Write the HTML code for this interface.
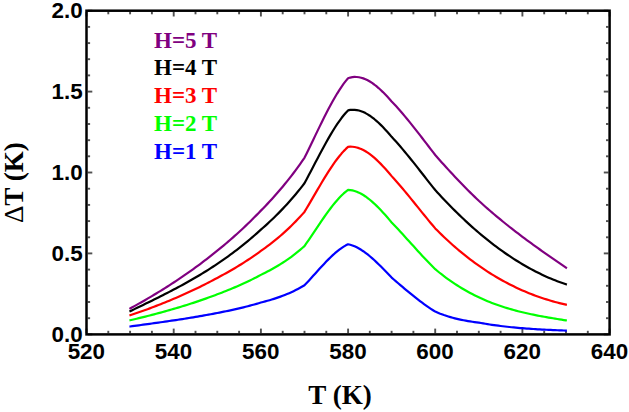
<!DOCTYPE html>
<html><head><meta charset="utf-8"><style>
html,body{margin:0;padding:0;background:#fff;}
svg{display:block;}
.tk text{font-family:"Liberation Sans",sans-serif;font-weight:bold;font-size:22.4px;fill:#000;}
.lg text{font-family:"Liberation Serif",serif;font-weight:bold;font-size:23px;}
.ax{font-family:"Liberation Serif",serif;font-weight:bold;font-size:27.1px;fill:#000;}
</style></head><body>
<svg width="629" height="412" viewBox="0 0 629 412">
<rect width="629" height="412" fill="#fff"/>
<g stroke="#505050" stroke-width="1.9">
<line x1="86.5" y1="333.2" x2="86.5" y2="328.6"/>
<line x1="86.5" y1="11.9" x2="86.5" y2="16.5"/>
<line x1="108.3" y1="333.2" x2="108.3" y2="330.8"/>
<line x1="108.3" y1="11.9" x2="108.3" y2="14.3"/>
<line x1="130.1" y1="333.2" x2="130.1" y2="330.8"/>
<line x1="130.1" y1="11.9" x2="130.1" y2="14.3"/>
<line x1="151.9" y1="333.2" x2="151.9" y2="330.8"/>
<line x1="151.9" y1="11.9" x2="151.9" y2="14.3"/>
<line x1="173.7" y1="333.2" x2="173.7" y2="328.6"/>
<line x1="173.7" y1="11.9" x2="173.7" y2="16.5"/>
<line x1="195.5" y1="333.2" x2="195.5" y2="330.8"/>
<line x1="195.5" y1="11.9" x2="195.5" y2="14.3"/>
<line x1="217.3" y1="333.2" x2="217.3" y2="330.8"/>
<line x1="217.3" y1="11.9" x2="217.3" y2="14.3"/>
<line x1="239.1" y1="333.2" x2="239.1" y2="330.8"/>
<line x1="239.1" y1="11.9" x2="239.1" y2="14.3"/>
<line x1="260.9" y1="333.2" x2="260.9" y2="328.6"/>
<line x1="260.9" y1="11.9" x2="260.9" y2="16.5"/>
<line x1="282.7" y1="333.2" x2="282.7" y2="330.8"/>
<line x1="282.7" y1="11.9" x2="282.7" y2="14.3"/>
<line x1="304.5" y1="333.2" x2="304.5" y2="330.8"/>
<line x1="304.5" y1="11.9" x2="304.5" y2="14.3"/>
<line x1="326.3" y1="333.2" x2="326.3" y2="330.8"/>
<line x1="326.3" y1="11.9" x2="326.3" y2="14.3"/>
<line x1="348.1" y1="333.2" x2="348.1" y2="328.6"/>
<line x1="348.1" y1="11.9" x2="348.1" y2="16.5"/>
<line x1="369.8" y1="333.2" x2="369.8" y2="330.8"/>
<line x1="369.8" y1="11.9" x2="369.8" y2="14.3"/>
<line x1="391.6" y1="333.2" x2="391.6" y2="330.8"/>
<line x1="391.6" y1="11.9" x2="391.6" y2="14.3"/>
<line x1="413.4" y1="333.2" x2="413.4" y2="330.8"/>
<line x1="413.4" y1="11.9" x2="413.4" y2="14.3"/>
<line x1="435.2" y1="333.2" x2="435.2" y2="328.6"/>
<line x1="435.2" y1="11.9" x2="435.2" y2="16.5"/>
<line x1="457.0" y1="333.2" x2="457.0" y2="330.8"/>
<line x1="457.0" y1="11.9" x2="457.0" y2="14.3"/>
<line x1="478.8" y1="333.2" x2="478.8" y2="330.8"/>
<line x1="478.8" y1="11.9" x2="478.8" y2="14.3"/>
<line x1="500.6" y1="333.2" x2="500.6" y2="330.8"/>
<line x1="500.6" y1="11.9" x2="500.6" y2="14.3"/>
<line x1="522.4" y1="333.2" x2="522.4" y2="328.6"/>
<line x1="522.4" y1="11.9" x2="522.4" y2="16.5"/>
<line x1="544.2" y1="333.2" x2="544.2" y2="330.8"/>
<line x1="544.2" y1="11.9" x2="544.2" y2="14.3"/>
<line x1="566.0" y1="333.2" x2="566.0" y2="330.8"/>
<line x1="566.0" y1="11.9" x2="566.0" y2="14.3"/>
<line x1="587.8" y1="333.2" x2="587.8" y2="330.8"/>
<line x1="587.8" y1="11.9" x2="587.8" y2="14.3"/>
<line x1="609.6" y1="333.2" x2="609.6" y2="328.6"/>
<line x1="609.6" y1="11.9" x2="609.6" y2="16.5"/>
<line x1="87.7" y1="334.4" x2="92.3" y2="334.4"/>
<line x1="608.4" y1="334.4" x2="603.8" y2="334.4"/>
<line x1="87.7" y1="318.2" x2="90.1" y2="318.2"/>
<line x1="608.4" y1="318.2" x2="606.0" y2="318.2"/>
<line x1="87.7" y1="302.0" x2="90.1" y2="302.0"/>
<line x1="608.4" y1="302.0" x2="606.0" y2="302.0"/>
<line x1="87.7" y1="285.8" x2="90.1" y2="285.8"/>
<line x1="608.4" y1="285.8" x2="606.0" y2="285.8"/>
<line x1="87.7" y1="269.6" x2="90.1" y2="269.6"/>
<line x1="608.4" y1="269.6" x2="606.0" y2="269.6"/>
<line x1="87.7" y1="253.4" x2="92.3" y2="253.4"/>
<line x1="608.4" y1="253.4" x2="603.8" y2="253.4"/>
<line x1="87.7" y1="237.3" x2="90.1" y2="237.3"/>
<line x1="608.4" y1="237.3" x2="606.0" y2="237.3"/>
<line x1="87.7" y1="221.1" x2="90.1" y2="221.1"/>
<line x1="608.4" y1="221.1" x2="606.0" y2="221.1"/>
<line x1="87.7" y1="204.9" x2="90.1" y2="204.9"/>
<line x1="608.4" y1="204.9" x2="606.0" y2="204.9"/>
<line x1="87.7" y1="188.7" x2="90.1" y2="188.7"/>
<line x1="608.4" y1="188.7" x2="606.0" y2="188.7"/>
<line x1="87.7" y1="172.5" x2="92.3" y2="172.5"/>
<line x1="608.4" y1="172.5" x2="603.8" y2="172.5"/>
<line x1="87.7" y1="156.3" x2="90.1" y2="156.3"/>
<line x1="608.4" y1="156.3" x2="606.0" y2="156.3"/>
<line x1="87.7" y1="140.2" x2="90.1" y2="140.2"/>
<line x1="608.4" y1="140.2" x2="606.0" y2="140.2"/>
<line x1="87.7" y1="124.0" x2="90.1" y2="124.0"/>
<line x1="608.4" y1="124.0" x2="606.0" y2="124.0"/>
<line x1="87.7" y1="107.8" x2="90.1" y2="107.8"/>
<line x1="608.4" y1="107.8" x2="606.0" y2="107.8"/>
<line x1="87.7" y1="91.6" x2="92.3" y2="91.6"/>
<line x1="608.4" y1="91.6" x2="603.8" y2="91.6"/>
<line x1="87.7" y1="75.4" x2="90.1" y2="75.4"/>
<line x1="608.4" y1="75.4" x2="606.0" y2="75.4"/>
<line x1="87.7" y1="59.2" x2="90.1" y2="59.2"/>
<line x1="608.4" y1="59.2" x2="606.0" y2="59.2"/>
<line x1="87.7" y1="43.1" x2="90.1" y2="43.1"/>
<line x1="608.4" y1="43.1" x2="606.0" y2="43.1"/>
<line x1="87.7" y1="26.9" x2="90.1" y2="26.9"/>
<line x1="608.4" y1="26.9" x2="606.0" y2="26.9"/>
<line x1="87.7" y1="10.7" x2="92.3" y2="10.7"/>
<line x1="608.4" y1="10.7" x2="603.8" y2="10.7"/>
</g>
<g>
<polyline points="129.44,308.86 130.09,308.51 132.27,307.31 134.45,306.10 136.63,304.89 138.81,303.66 140.99,302.43 143.17,301.18 145.35,299.93 147.53,298.66 149.71,297.38 151.89,296.09 154.07,294.79 156.25,293.48 158.43,292.16 160.61,290.82 162.79,289.47 164.97,288.11 167.14,286.73 169.32,285.34 171.50,283.94 173.68,282.52 175.86,281.08 178.04,279.64 180.22,278.17 182.40,276.69 184.58,275.20 186.76,273.69 188.94,272.16 191.12,270.62 193.30,269.06 195.48,267.48 197.66,265.89 199.84,264.27 202.02,262.64 204.20,260.99 206.38,259.32 208.56,257.63 210.74,255.93 212.92,254.20 215.10,252.45 217.28,250.69 219.45,248.92 221.63,247.13 223.81,245.31 225.99,243.48 228.17,241.62 230.35,239.74 232.53,237.84 234.71,235.91 236.89,233.95 239.07,231.97 241.25,229.97 243.43,227.93 245.61,225.87 247.79,223.78 249.97,221.67 252.15,219.52 254.33,217.34 256.51,215.14 258.69,212.90 260.87,210.63 263.05,208.41 265.23,206.16 267.41,203.87 269.59,201.54 271.76,199.18 273.94,196.77 276.12,194.32 278.30,191.83 280.48,189.29 282.66,186.70 284.84,184.07 287.02,181.38 289.20,178.64 291.38,175.85 293.56,173.00 295.74,170.09 297.92,167.12 300.10,164.09 302.28,160.99 304.46,157.83 306.64,153.41 308.82,148.94 311.00,144.43 313.18,139.91 315.36,135.38 317.54,130.86 319.72,126.38 321.89,121.94 324.07,117.57 326.25,113.28 328.43,109.08 330.61,104.99 332.79,101.03 334.97,97.21 337.15,93.55 339.33,90.07 341.51,86.78 343.69,83.70 345.87,80.84 348.05,78.23 350.23,77.55 352.41,77.13 354.59,76.94 356.77,76.98 358.95,77.24 361.13,77.72 363.31,78.39 365.49,79.26 367.67,80.32 369.85,81.55 372.03,82.94 374.20,84.50 376.38,86.20 378.56,88.04 380.74,90.01 382.92,92.10 385.10,94.31 387.28,96.61 389.46,99.01 391.64,101.50 393.82,103.77 396.00,106.11 398.18,108.52 400.36,110.99 402.54,113.52 404.72,116.10 406.90,118.72 409.08,121.39 411.26,124.09 413.44,126.83 415.62,129.60 417.80,132.39 419.98,135.20 422.16,138.02 424.34,140.85 426.52,143.69 428.69,146.52 430.87,149.35 433.05,152.18 435.23,154.98 437.41,157.47 439.59,159.95 441.77,162.40 443.95,164.83 446.13,167.24 448.31,169.63 450.49,172.00 452.67,174.35 454.85,176.68 457.03,178.98 459.21,181.27 461.39,183.53 463.57,185.77 465.75,187.99 467.93,190.18 470.11,192.35 472.29,194.50 474.47,196.62 476.65,198.72 478.82,200.80 481.00,202.79 483.18,204.76 485.36,206.70 487.54,208.63 489.72,210.53 491.90,212.41 494.08,214.27 496.26,216.10 498.44,217.92 500.62,219.72 502.80,221.50 504.98,223.27 507.16,225.01 509.34,226.74 511.52,228.45 513.70,230.15 515.88,231.83 518.06,233.49 520.24,235.15 522.42,236.79 524.60,238.41 526.78,240.03 528.96,241.63 531.13,243.22 533.31,244.80 535.49,246.38 537.67,247.94 539.85,249.49 542.03,251.04 544.21,252.58 546.39,254.11 548.57,255.64 550.75,257.16 552.93,258.67 555.11,260.18 557.29,261.69 559.47,263.20 561.65,264.70 563.83,266.20 566.01,267.69 566.88,268.29" fill="none" stroke="#800080" stroke-width="2.2" stroke-linejoin="round"/>
<polyline points="129.44,311.56 130.09,311.24 132.27,310.19 134.45,309.13 136.63,308.08 138.81,307.02 140.99,305.96 143.17,304.90 145.35,303.84 147.53,302.78 149.71,301.71 151.89,300.64 154.07,299.57 156.25,298.48 158.43,297.40 160.61,296.31 162.79,295.21 164.97,294.10 167.14,292.99 169.32,291.86 171.50,290.73 173.68,289.59 175.86,288.44 178.04,287.28 180.22,286.10 182.40,284.92 184.58,283.72 186.76,282.51 188.94,281.28 191.12,280.05 193.30,278.79 195.48,277.53 197.66,276.24 199.84,274.94 202.02,273.63 204.20,272.29 206.38,270.94 208.56,269.57 210.74,268.18 212.92,266.77 215.10,265.34 217.28,263.89 219.45,262.41 221.63,260.91 223.81,259.39 225.99,257.85 228.17,256.28 230.35,254.69 232.53,253.07 234.71,251.43 236.89,249.76 239.07,248.07 241.25,246.36 243.43,244.61 245.61,242.84 247.79,241.05 249.97,239.22 252.15,237.37 254.33,235.49 256.51,233.58 258.69,231.64 260.87,229.67 263.05,227.75 265.23,225.81 267.41,223.83 269.59,221.81 271.76,219.76 273.94,217.67 276.12,215.53 278.30,213.36 280.48,211.13 282.66,208.87 284.84,206.55 287.02,204.18 289.20,201.77 291.38,199.29 293.56,196.77 295.74,194.18 297.92,191.54 300.10,188.84 302.28,186.07 304.46,183.24 306.64,179.18 308.82,175.07 311.00,170.92 313.18,166.76 315.36,162.59 317.54,158.44 319.72,154.31 321.89,150.23 324.07,146.20 326.25,142.26 328.43,138.40 330.61,134.65 332.79,131.02 334.97,127.53 337.15,124.20 339.33,121.03 341.51,118.05 343.69,115.28 345.87,112.71 348.05,110.38 350.23,109.95 352.41,109.76 354.59,109.80 356.77,110.05 358.95,110.52 361.13,111.20 363.31,112.06 365.49,113.11 367.67,114.34 369.85,115.73 372.03,117.29 374.20,118.99 376.38,120.83 378.56,122.79 380.74,124.89 382.92,127.09 385.10,129.40 387.28,131.80 389.46,134.28 391.64,136.84 393.82,139.18 396.00,141.57 398.18,144.03 400.36,146.54 402.54,149.09 404.72,151.69 406.90,154.33 409.08,157.00 411.26,159.70 413.44,162.43 415.62,165.18 417.80,167.94 419.98,170.71 422.16,173.50 424.34,176.28 426.52,179.06 428.69,181.83 430.87,184.59 433.05,187.33 435.23,190.05 437.41,192.44 439.59,194.81 441.77,197.15 443.95,199.46 446.13,201.75 448.31,204.01 450.49,206.24 452.67,208.44 454.85,210.62 457.03,212.77 459.21,214.90 461.39,216.99 463.57,219.06 465.75,221.11 467.93,223.12 470.11,225.11 472.29,227.06 474.47,229.00 476.65,230.90 478.82,232.77 481.00,234.61 483.18,236.42 485.36,238.21 487.54,239.96 489.72,241.69 491.90,243.39 494.08,245.06 496.26,246.70 498.44,248.31 500.62,249.90 502.80,251.46 504.98,252.98 507.16,254.49 509.34,255.96 511.52,257.40 513.70,258.82 515.88,260.21 518.06,261.56 520.24,262.90 522.42,264.20 524.60,265.47 526.78,266.72 528.96,267.94 531.13,269.13 533.31,270.29 535.49,271.42 537.67,272.53 539.85,273.60 542.03,274.65 544.21,275.67 546.39,276.66 548.57,277.63 550.75,278.56 552.93,279.47 555.11,280.35 557.29,281.20 559.47,282.02 561.65,282.81 563.83,283.58 566.01,284.31 566.88,284.60" fill="none" stroke="#000000" stroke-width="2.2" stroke-linejoin="round"/>
<polyline points="129.44,315.54 130.09,315.32 132.27,314.58 134.45,313.83 136.63,313.07 138.81,312.31 140.99,311.53 143.17,310.75 145.35,309.96 147.53,309.17 149.71,308.36 151.89,307.54 154.07,306.72 156.25,305.88 158.43,305.04 160.61,304.19 162.79,303.32 164.97,302.45 167.14,301.56 169.32,300.67 171.50,299.76 173.68,298.85 175.86,297.92 178.04,296.98 180.22,296.03 182.40,295.06 184.58,294.09 186.76,293.10 188.94,292.10 191.12,291.09 193.30,290.07 195.48,289.03 197.66,287.98 199.84,286.92 202.02,285.84 204.20,284.75 206.38,283.64 208.56,282.53 210.74,281.39 212.92,280.24 215.10,279.08 217.28,277.91 219.45,276.75 221.63,275.58 223.81,274.39 225.99,273.19 228.17,271.97 230.35,270.72 232.53,269.46 234.71,268.18 236.89,266.88 239.07,265.56 241.25,264.21 243.43,262.84 245.61,261.44 247.79,260.02 249.97,258.58 252.15,257.11 254.33,255.61 256.51,254.08 258.69,252.53 260.87,250.95 263.05,249.40 265.23,247.82 267.41,246.20 269.59,244.55 271.76,242.87 273.94,241.14 276.12,239.38 278.30,237.57 280.48,235.72 282.66,233.82 284.84,231.87 287.02,229.88 289.20,227.83 291.38,225.73 293.56,223.58 295.74,221.37 297.92,219.10 300.10,216.77 302.28,214.38 304.46,211.93 306.64,208.30 308.82,204.61 311.00,200.89 313.18,197.15 315.36,193.41 317.54,189.68 319.72,185.97 321.89,182.30 324.07,178.69 326.25,175.14 328.43,171.69 330.61,168.33 332.79,165.09 334.97,161.98 337.15,159.01 339.33,156.21 341.51,153.58 343.69,151.14 345.87,148.90 348.05,146.89 350.23,146.71 352.41,146.75 354.59,147.01 356.77,147.48 358.95,148.15 361.13,149.01 363.31,150.05 365.49,151.27 367.67,152.65 369.85,154.18 372.03,155.86 374.20,157.68 376.38,159.63 378.56,161.70 380.74,163.88 382.92,166.16 385.10,168.54 387.28,171.00 389.46,173.53 391.64,176.13 393.82,178.52 396.00,180.95 398.18,183.43 400.36,185.96 402.54,188.53 404.72,191.13 406.90,193.75 409.08,196.41 411.26,199.08 413.44,201.76 415.62,204.46 417.80,207.16 419.98,209.87 422.16,212.57 424.34,215.25 426.52,217.93 428.69,220.59 430.87,223.22 433.05,225.83 435.23,228.40 437.41,230.60 439.59,232.77 441.77,234.89 443.95,236.99 446.13,239.04 448.31,241.06 450.49,243.04 452.67,244.99 454.85,246.90 457.03,248.78 459.21,250.62 461.39,252.43 463.57,254.20 465.75,255.94 467.93,257.65 470.11,259.33 472.29,260.97 474.47,262.58 476.65,264.16 478.82,265.70 481.00,267.22 483.18,268.71 485.36,270.16 487.54,271.58 489.72,272.98 491.90,274.34 494.08,275.67 496.26,276.97 498.44,278.25 500.62,279.49 502.80,280.71 504.98,281.90 507.16,283.05 509.34,284.19 511.52,285.29 513.70,286.36 515.88,287.41 518.06,288.43 520.24,289.43 522.42,290.40 524.60,291.34 526.78,292.26 528.96,293.15 531.13,294.01 533.31,294.85 535.49,295.67 537.67,296.46 539.85,297.23 542.03,297.97 544.21,298.69 546.39,299.39 548.57,300.06 550.75,300.71 552.93,301.34 555.11,301.94 557.29,302.52 559.47,303.08 561.65,303.62 563.83,304.14 566.01,304.64 566.88,304.83" fill="none" stroke="#ff0000" stroke-width="2.2" stroke-linejoin="round"/>
<polyline points="129.44,320.44 130.09,320.29 132.27,319.77 134.45,319.25 136.63,318.72 138.81,318.19 140.99,317.65 143.17,317.11 145.35,316.57 147.53,316.01 149.71,315.46 151.89,314.90 154.07,314.33 156.25,313.75 158.43,313.17 160.61,312.58 162.79,311.99 164.97,311.39 167.14,310.78 169.32,310.17 171.50,309.54 173.68,308.91 175.86,308.27 178.04,307.62 180.22,306.97 182.40,306.30 184.58,305.63 186.76,304.95 188.94,304.26 191.12,303.56 193.30,302.85 195.48,302.13 197.66,301.39 199.84,300.65 202.02,299.90 204.20,299.14 206.38,298.37 208.56,297.58 210.74,296.79 212.92,295.98 215.10,295.16 217.28,294.33 219.45,293.51 221.63,292.68 223.81,291.83 225.99,290.97 228.17,290.10 230.35,289.21 232.53,288.31 234.71,287.38 236.89,286.45 239.07,285.49 241.25,284.52 243.43,283.53 245.61,282.52 247.79,281.49 249.97,280.44 252.15,279.37 254.33,278.28 256.51,277.17 258.69,276.04 260.87,274.88 263.05,273.81 265.23,272.72 267.41,271.60 269.59,270.45 271.76,269.26 273.94,268.04 276.12,266.79 278.30,265.50 280.48,264.16 282.66,262.78 284.84,261.36 287.02,259.88 289.20,258.36 291.38,256.78 293.56,255.15 295.74,253.46 297.92,251.71 300.10,249.90 302.28,248.03 304.46,246.09 306.64,242.97 308.82,239.79 311.00,236.57 313.18,233.33 315.36,230.08 317.54,226.83 319.72,223.60 321.89,220.40 324.07,217.25 326.25,214.16 328.43,211.15 330.61,208.23 332.79,205.42 334.97,202.73 337.15,200.17 339.33,197.76 341.51,195.51 343.69,193.45 345.87,191.57 348.05,189.91 350.23,190.05 352.41,190.40 354.59,190.95 356.77,191.70 358.95,192.64 361.13,193.75 363.31,195.02 365.49,196.46 367.67,198.03 369.85,199.75 372.03,201.60 374.20,203.56 376.38,205.64 378.56,207.82 380.74,210.08 382.92,212.43 385.10,214.85 387.28,217.34 389.46,219.88 391.64,222.46 393.82,224.74 396.00,227.04 398.18,229.37 400.36,231.73 402.54,234.10 404.72,236.49 406.90,238.89 409.08,241.29 411.26,243.70 413.44,246.11 415.62,248.51 417.80,250.90 419.98,253.28 422.16,255.64 424.34,257.98 426.52,260.29 428.69,262.57 430.87,264.82 433.05,267.03 435.23,269.20 437.41,271.00 439.59,272.76 441.77,274.47 443.95,276.14 446.13,277.77 448.31,279.35 450.49,280.89 452.67,282.39 454.85,283.84 457.03,285.26 459.21,286.63 461.39,287.97 463.57,289.27 465.75,290.53 467.93,291.75 470.11,292.94 472.29,294.09 474.47,295.21 476.65,296.29 478.82,297.34 481.00,298.35 483.18,299.32 485.36,300.27 487.54,301.18 489.72,302.06 491.90,302.92 494.08,303.74 496.26,304.54 498.44,305.31 500.62,306.06 502.80,306.78 504.98,307.48 507.16,308.15 509.34,308.80 511.52,309.43 513.70,310.04 515.88,310.63 518.06,311.20 520.24,311.75 522.42,312.28 524.60,312.79 526.78,313.29 528.96,313.77 531.13,314.24 533.31,314.70 535.49,315.14 537.67,315.57 539.85,315.98 542.03,316.39 544.21,316.79 546.39,317.17 548.57,317.55 550.75,317.92 552.93,318.29 555.11,318.65 557.29,319.00 559.47,319.35 561.65,319.70 563.83,320.04 566.01,320.38 566.88,320.52" fill="none" stroke="#00ff00" stroke-width="2.2" stroke-linejoin="round"/>
<polyline points="129.44,326.58 130.09,326.49 132.27,326.19 134.45,325.89 136.63,325.59 138.81,325.29 140.99,324.99 143.17,324.69 145.35,324.39 147.53,324.09 149.71,323.79 151.89,323.49 154.07,323.19 156.25,322.89 158.43,322.58 160.61,322.28 162.79,321.97 164.97,321.66 167.14,321.34 169.32,321.03 171.50,320.71 173.68,320.38 175.86,320.06 178.04,319.73 180.22,319.40 182.40,319.06 184.58,318.72 186.76,318.38 188.94,318.03 191.12,317.67 193.30,317.31 195.48,316.95 197.66,316.58 199.84,316.20 202.02,315.82 204.20,315.44 206.38,315.04 208.56,314.64 210.74,314.24 212.92,313.82 215.10,313.40 217.28,312.97 219.45,312.56 221.63,312.13 223.81,311.70 225.99,311.25 228.17,310.80 230.35,310.34 232.53,309.86 234.71,309.38 236.89,308.89 239.07,308.38 241.25,307.86 243.43,307.33 245.61,306.78 247.79,306.22 249.97,305.65 252.15,305.06 254.33,304.46 256.51,303.84 258.69,303.20 260.87,302.55 263.05,301.99 265.23,301.41 267.41,300.81 269.59,300.19 271.76,299.54 273.94,298.86 276.12,298.15 278.30,297.41 280.48,296.64 282.66,295.83 284.84,294.98 287.02,294.10 289.20,293.17 291.38,292.19 293.56,291.17 295.74,290.10 297.92,288.98 300.10,287.80 302.28,286.57 304.46,285.28 306.64,282.98 308.82,280.63 311.00,278.25 313.18,275.84 315.36,273.42 317.54,271.00 319.72,268.60 321.89,266.22 324.07,263.89 326.25,261.60 328.43,259.38 330.61,257.23 332.79,255.17 334.97,253.21 337.15,251.37 339.33,249.64 341.51,248.06 343.69,246.62 345.87,245.35 348.05,244.25 350.23,244.76 352.41,245.45 354.59,246.31 356.77,247.33 358.95,248.49 361.13,249.80 363.31,251.23 365.49,252.79 367.67,254.46 369.85,256.23 372.03,258.10 374.20,260.05 376.38,262.08 378.56,264.17 380.74,266.32 382.92,268.52 385.10,270.75 387.28,273.02 389.46,275.30 391.64,277.60 393.82,279.48 396.00,281.35 398.18,283.23 400.36,285.09 402.54,286.95 404.72,288.79 406.90,290.62 409.08,292.43 411.26,294.21 413.44,295.97 415.62,297.71 417.80,299.41 419.98,301.08 422.16,302.71 424.34,304.30 426.52,305.85 428.69,307.35 430.87,308.81 433.05,310.21 435.23,311.57 437.41,312.52 439.59,313.42 441.77,314.26 443.95,315.06 446.13,315.80 448.31,316.50 450.49,317.16 452.67,317.77 454.85,318.35 457.03,318.88 459.21,319.38 461.39,319.85 463.57,320.29 465.75,320.69 467.93,321.07 470.11,321.43 472.29,321.76 474.47,322.08 476.65,322.37 478.82,322.65 481.00,323.04 483.18,323.42 485.36,323.78 487.54,324.13 489.72,324.47 491.90,324.79 494.08,325.11 496.26,325.41 498.44,325.70 500.62,325.98 502.80,326.25 504.98,326.51 507.16,326.75 509.34,326.99 511.52,327.22 513.70,327.43 515.88,327.64 518.06,327.84 520.24,328.03 522.42,328.22 524.60,328.39 526.78,328.56 528.96,328.72 531.13,328.87 533.31,329.02 535.49,329.15 537.67,329.29 539.85,329.41 542.03,329.53 544.21,329.65 546.39,329.76 548.57,329.86 550.75,329.96 552.93,330.06 555.11,330.15 557.29,330.24 559.47,330.33 561.65,330.41 563.83,330.49 566.01,330.56 566.88,330.59" fill="none" stroke="#0000ff" stroke-width="2.2" stroke-linejoin="round"/>
</g>
<rect x="86.5" y="10.7" width="523.1" height="323.7" fill="none" stroke="#000" stroke-width="2.5"/>
<g class="tk">
<text transform="translate(86.3,359.2) scale(1.0,1)" text-anchor="middle">520</text>
<text transform="translate(173.5,359.2) scale(1.0,1)" text-anchor="middle">540</text>
<text transform="translate(260.7,359.2) scale(1.0,1)" text-anchor="middle">560</text>
<text transform="translate(347.9,359.2) scale(1.0,1)" text-anchor="middle">580</text>
<text transform="translate(435.0,359.2) scale(1.0,1)" text-anchor="middle">600</text>
<text transform="translate(522.2,359.2) scale(1.0,1)" text-anchor="middle">620</text>
<text transform="translate(609.4,359.2) scale(1.0,1)" text-anchor="middle">640</text>
<text transform="translate(82.6,342.1) scale(1.0,1)" text-anchor="end">0.0</text>
<text transform="translate(82.6,261.1) scale(1.0,1)" text-anchor="end">0.5</text>
<text transform="translate(82.6,180.2) scale(1.0,1)" text-anchor="end">1.0</text>
<text transform="translate(82.6,99.3) scale(1.0,1)" text-anchor="end">1.5</text>
<text transform="translate(82.6,18.4) scale(1.0,1)" text-anchor="end">2.0</text>
</g>
<g class="lg">
<text x="154" y="47.6" fill="#800080">H=5 T</text>
<text x="154" y="75.4" fill="#000000">H=4 T</text>
<text x="154" y="103.3" fill="#ff0000">H=3 T</text>
<text x="154" y="131.2" fill="#00ff00">H=2 T</text>
<text x="154" y="159.1" fill="#0000ff">H=1 T</text>
</g>
<text class="ax" x="308.3" y="403.5">T (K)</text>
<text class="ax" transform="translate(23.4,223.1) rotate(-90)"><tspan font-weight="normal">Δ</tspan>T (K)</text>
</svg>
</body></html>
